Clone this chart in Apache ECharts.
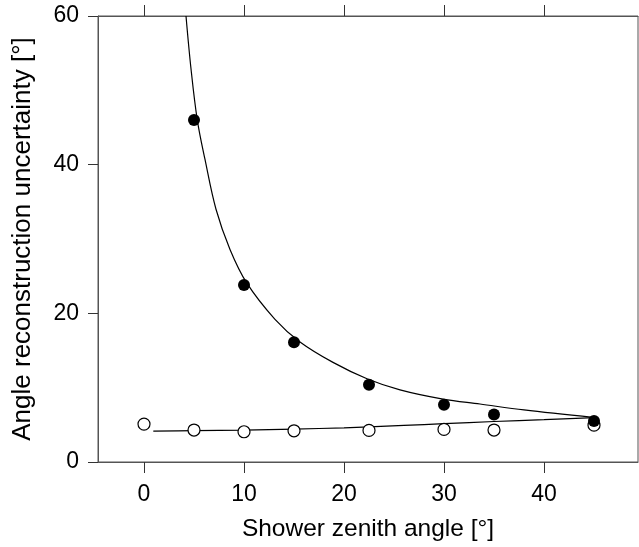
<!DOCTYPE html>
<html>
<head>
<meta charset="utf-8">
<script src="https://cdn.jsdelivr.net/npm/echarts@6/dist/echarts.min.js"></script>
<style>
  html, body { margin: 0; padding: 0; background: #fff; }
  #chart { width: 639px; height: 547px; }
</style>
</head>
<body>
<div id="chart"></div>
<script>
// Axis ticks
const xTicks = [0, 10, 20, 30, 40];
const yTicks = [0, 20, 40, 60];

// Measured uncertainty, filled markers
const filledAngles = [5, 10, 15, 22.5, 30, 35, 45];
const filledValues = [46.0, 23.8, 16.1, 10.4, 7.7, 6.4, 5.5];

// Measured uncertainty, open markers
const openAngles = [0, 5, 10, 15, 22.5, 30, 35, 45];
const openValues = [5.1, 4.3, 4.07, 4.2, 4.25, 4.38, 4.3, 4.95];

// Fitted curve through the filled points
const fitFilledAngles = [4.2, 4.7, 5.33, 6.1, 7.2, 8.6, 10.27, 13.1, 15.6, 18.9, 22.3, 25.6, 29.9, 33.6, 38, 44.9];
const fitFilledValues = [60, 52.9, 46.0, 40.7, 34.0, 28.6, 24.1, 19.2, 16.15, 13.4, 11.2, 9.7, 8.46, 7.8, 7.0, 6.0];

// Fitted curve through the open points
const fitOpenAngles = [0.93, 5, 10, 15, 20, 22.5, 26, 30, 35, 40, 45];
const fitOpenValues = [4.16, 4.22, 4.3, 4.42, 4.6, 4.72, 4.92, 5.15, 5.45, 5.7, 5.97];

const pairs = (xs, ys) => xs.map((x, i) => [x, ys[i]]);

const FONT = 'Liberation Sans';
const FRAME = '#555';
const TICK = '#333';

const chart = echarts.init(document.getElementById('chart'), null, { renderer: 'canvas' });

const baseX = {
  type: 'value',
  min: -4.6,
  max: 49.4,
  splitLine: { show: false },
  axisLine: { show: true, onZero: false, lineStyle: { color: FRAME, width: 1 } },
  axisTick: { show: true, inside: false, length: 11, customValues: xTicks, lineStyle: { color: TICK, width: 1 } }
};

chart.setOption({
  animation: false,
  backgroundColor: '#fff',
  grid: {
    left: 98, right: 1, top: 16, bottom: 84,
    show: true, borderColor: FRAME, borderWidth: 1, backgroundColor: 'transparent'
  },
  xAxis: [
    Object.assign({}, baseX, {
      position: 'bottom',
      axisLabel: { show: true, customValues: xTicks, fontFamily: FONT, fontSize: 23, color: '#000', margin: 21 },
      name: 'Shower zenith angle [°]',
      nameLocation: 'middle',
      nameGap: 55,
      nameTextStyle: { fontFamily: FONT, fontSize: 24.5, color: '#000' }
    }),
    Object.assign({}, baseX, {
      position: 'top',
      axisLabel: { show: false }
    })
  ],
  yAxis: {
    type: 'value',
    min: 0,
    max: 60,
    interval: 20,
    splitLine: { show: false },
    axisLine: { show: true, onZero: false, lineStyle: { color: FRAME, width: 1 } },
    axisTick: { show: true, inside: false, length: 10, customValues: yTicks, lineStyle: { color: TICK, width: 1 } },
    axisLabel: { customValues: yTicks, fontFamily: FONT, fontSize: 23, color: '#000', margin: 19 },
    name: 'Angle reconstruction uncertainty [°]',
    nameLocation: 'middle',
    nameGap: 62,
    nameTextStyle: { fontFamily: FONT, fontSize: 26, color: '#000' }
  },
  series: [
    {
      type: 'line',
      data: pairs(fitFilledAngles, fitFilledValues),
      showSymbol: false,
      smooth: 0.35,
      lineStyle: { color: '#000', width: 1.2 },
      z: 1
    },
    {
      type: 'line',
      data: pairs(fitOpenAngles, fitOpenValues),
      showSymbol: false,
      smooth: 0.35,
      lineStyle: { color: '#000', width: 1.2 },
      z: 1
    },
    {
      type: 'scatter',
      data: pairs(openAngles, openValues),
      symbol: 'circle',
      symbolSize: 12,
      itemStyle: { color: '#fff', borderColor: '#000', borderWidth: 1.2, opacity: 1 },
      z: 3
    },
    {
      type: 'scatter',
      data: pairs(filledAngles, filledValues),
      symbol: 'circle',
      symbolSize: 12,
      itemStyle: { color: '#000', opacity: 1 },
      z: 4
    }
  ]
});
</script>
</body>
</html>
